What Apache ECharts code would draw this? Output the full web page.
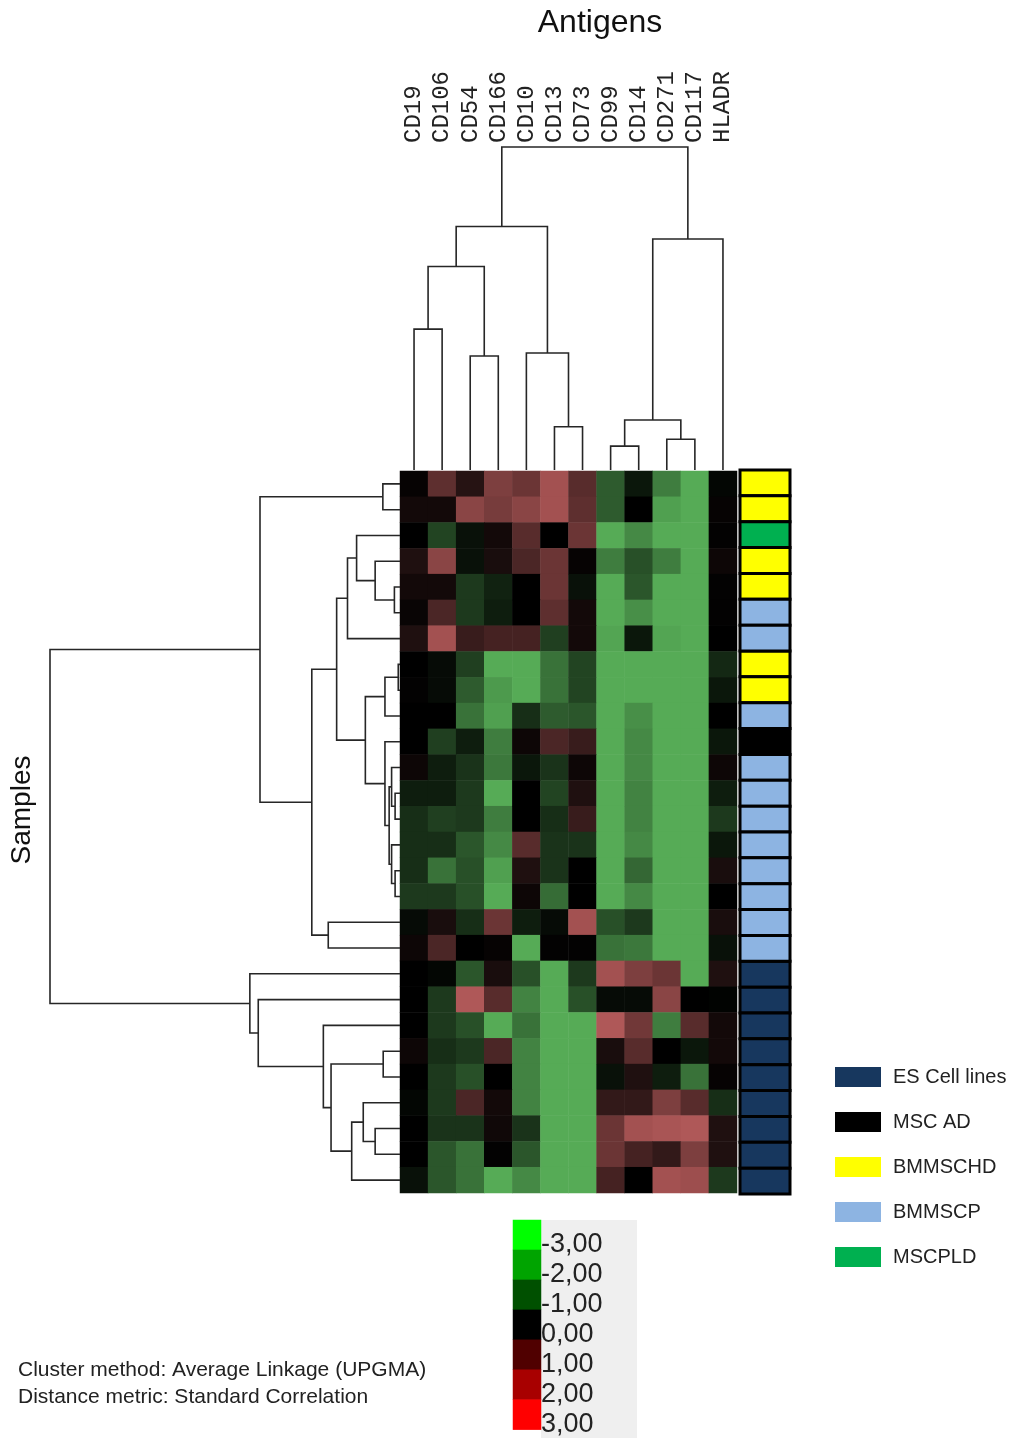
<!DOCTYPE html>
<html>
<head>
<meta charset="utf-8">
<script src="https://cdn.jsdelivr.net/npm/echarts@6/dist/echarts.min.js"></script>
<style>
  html, body { margin: 0; padding: 0; background: #fff; }
  #chart { width: 1015px; height: 1438px; }
</style>
</head>
<body>
<div id="chart"></div>
<script>
// antigens (columns) and expression values per sample (rows)
const antigens = ["CD19", "CD106", "CD54", "CD166", "CD10", "CD13", "CD73", "CD99", "CD14", "CD271", "CD117", "HLADR"];

const expr = [
  [0.1, 1.5, 0.6, 2.0, 1.7, 2.6, 1.4, -1.6, -0.4, -2.2, -3, -0.1],
  [0.3, 0.3, 2.2, 1.9, 2.2, 2.6, 1.5, -1.6, 0.0, -2.8, -3, 0.1],
  [0.0, -1.2, -0.3, 0.3, 1.4, 0.0, 1.7, -3, -2.4, -3, -3, 0.05],
  [0.5, 2.2, -0.3, 0.4, 1.2, 1.7, 0.1, -2.2, -1.4, -2.2, -3, 0.2],
  [0.3, 0.3, -1.0, -0.6, 0.0, 1.7, -0.3, -3, -1.5, -3, -3, 0.05],
  [0.15, 1.2, -1.0, -0.5, 0.0, 1.5, 0.3, -3, -2.5, -3, -3, 0.05],
  [0.5, 2.6, 0.9, 1.1, 1.1, -1.1, 0.3, -2.9, -0.4, -2.9, -3, 0.0],
  [0.0, -0.2, -1.1, -3, -3, -2.0, -1.2, -3, -3, -3, -3, -0.7],
  [0.05, -0.2, -1.6, -2.7, -3, -2.0, -1.2, -3, -3, -3, -3, -0.4],
  [0.0, 0.0, -2.0, -2.8, -0.8, -1.6, -1.5, -3, -2.5, -3, -3, 0.0],
  [0.0, -1.1, -0.5, -2.2, 0.2, 1.2, 0.9, -3, -2.4, -3, -3, -0.4],
  [0.2, -0.5, -0.9, -2.1, -0.4, -0.9, 0.2, -3, -2.4, -3, -3, 0.2],
  [-0.5, -0.5, -1.0, -3, 0.0, -1.2, 0.5, -3, -2.3, -3, -3, -0.5],
  [-0.8, -1.1, -1.0, -2.2, 0.0, -0.8, 0.9, -3, -2.3, -3, -3, -1.0],
  [-0.8, -0.8, -1.5, -2.4, 1.4, -0.9, -0.9, -3, -2.4, -3, -3, -0.4],
  [-0.8, -2.0, -1.4, -2.8, 0.5, -0.9, 0.0, -3, -1.8, -3, -3, 0.4],
  [-1.0, -1.0, -1.4, -3, 0.2, -1.9, 0.0, -3, -2.4, -3, -3, 0.0],
  [-0.2, 0.4, -0.8, 1.7, -0.5, -0.2, 2.6, -1.4, -1.0, -3, -3, 0.4],
  [0.2, 1.2, 0.0, 0.1, -3, 0.05, 0.05, -2.0, -2.1, -3, -3, -0.3],
  [0.0, -0.1, -1.5, 0.4, -1.4, -3, -1.0, 2.6, 2.0, 1.7, -3, 0.5],
  [0.0, -1.0, 2.8, 1.4, -2.3, -3, -1.4, -0.2, -0.2, 2.2, 0.0, -0.05],
  [0.0, -1.0, -1.4, -3, -2.0, -3, -3, 2.8, 1.8, -2.2, 1.4, 0.3],
  [0.2, -0.8, -1.0, 1.2, -2.3, -3, -3, 0.4, 1.4, 0.0, -0.4, 0.3],
  [0.0, -1.0, -1.4, 0.0, -2.3, -3, -3, -0.3, 0.5, -0.5, -2.0, 0.1],
  [-0.1, -1.0, 1.2, 0.3, -2.3, -3, -3, 0.8, 0.8, 2.0, 1.4, -0.8],
  [0.0, -0.9, -0.9, 0.25, -0.9, -3, -3, 1.7, 2.6, 2.7, 2.8, 0.5],
  [0.0, -1.5, -2.0, 0.05, -1.5, -3, -3, 1.7, 1.1, 0.8, 2.0, 0.5],
  [-0.3, -1.5, -2.0, -3, -2.4, -3, -3, 1.1, 0.0, 2.6, 2.5, -1.0]
];

// sample group of each row, top to bottom
const sampleGroups = [
  "BMMSCHD", "BMMSCHD", "MSCPLD", "BMMSCHD", "BMMSCHD", "BMMSCP", "BMMSCP", "BMMSCHD", "BMMSCHD", "BMMSCP",
  "MSC AD",
  "BMMSCP", "BMMSCP", "BMMSCP", "BMMSCP", "BMMSCP", "BMMSCP", "BMMSCP", "BMMSCP",
  "ES Cell lines", "ES Cell lines", "ES Cell lines", "ES Cell lines", "ES Cell lines",
  "ES Cell lines", "ES Cell lines", "ES Cell lines", "ES Cell lines"
];
const groupNames = ["ES Cell lines", "MSC AD", "BMMSCHD", "BMMSCP", "MSCPLD"];
const groupColors = { "ES Cell lines": "#17375e", "MSC AD": "#000000", "BMMSCHD": "#ffff00", "BMMSCP": "#8db4e2", "MSCPLD": "#00b050" };

// dendrograms as nested [left, right, distance]; numbers are leaf indexes
const colTree = [
  [[[0, 1, 0.436], [2, 3, 0.353], 0.630], [4, [5, 6, 0.134], 0.362], 0.754],
  [[[7, 8, 0.074], [9, 10, 0.095], 0.155], 11, 0.715],
  1.0
];

const rowUpper = [
  [0, 1, 0.049],
  [
    [
      [[2, [3, [4, 5, 0.016], 0.071], 0.124], 6, 0.150],
      [
        [[7, 8, 0.005], 9, 0.043],
        [10, [[11, [12, 13, 0.014], 0.024], [14, [15, 16, 0.014], 0.024], 0.031], 0.043],
        0.099
      ],
      0.181
    ],
    [17, 18, 0.205],
    0.252
  ],
  0.400
];
const rowLower = [19, [20, [21, [[22, 23, 0.048], [[24, [25, 26, 0.071], 0.105], 27, 0.138], 0.197], 0.219], 0.405], 0.429];
const rowTree = [rowUpper, rowLower, 1.0];

// colour scale
const scaleValues = [-3, -2, -1, 0, 1, 2, 3];
const scaleLabels = ["-3,00", "-2,00", "-1,00", "0,00", "1,00", "2,00", "3,00"];
const scaleColors = ["#00ff00", "#00a400", "#005000", "#000000", "#500000", "#a80000", "#ff0000"];

// flatten a tree into U-shaped links [posA, hA, posB, hB, h]
function walk(node, out) {
  if (typeof node === "number") return [node, 0];
  const a = walk(node[0], out);
  const b = walk(node[1], out);
  out.push([a[0], a[1], b[0], b[1], node[2]]);
  return [(a[0] + b[0]) / 2, node[2]];
}
const colLinks = [];
walk(colTree, colLinks);
const rowLinks = [];
walk(rowTree, rowLinks);

const heatData = [];
expr.forEach(function (row, r) {
  row.forEach(function (v, c) {
    heatData.push([c, r, v]);
  });
});
const rowIds = expr.map(function (_, i) { return String(i + 1); });

const lineStyle = { stroke: "#262626", lineWidth: 1.6, fill: null };

function dendroRender(vertical) {
  return function (params, api) {
    const pt = function (p, h) { return vertical ? api.coord([p, h]) : api.coord([h, p]); };
    return {
      type: "polyline",
      shape: {
        points: [
          pt(api.value(0), api.value(1)),
          pt(api.value(0), api.value(4)),
          pt(api.value(2), api.value(4)),
          pt(api.value(2), api.value(3))
        ]
      },
      style: lineStyle
    };
  };
}

const groupSeries = groupNames.map(function (g) {
  const data = [];
  sampleGroups.forEach(function (s, i) {
    if (s === g) data.push([0, i]);
  });
  return {
    type: "custom",
    name: g,
    xAxisIndex: 4,
    yAxisIndex: 3,
    itemStyle: { color: groupColors[g] },
    data: data,
    renderItem: function (params, api) {
      const c = api.coord([0, api.value(1)]);
      const s = api.size([1, 1]);
      return {
        type: "rect",
        shape: { x: c[0] - s[0] / 2, y: c[1] - s[1] / 2, width: s[0], height: s[1] },
        style: { fill: api.visual("color"), stroke: "#000", lineWidth: 3 }
      };
    }
  };
});

const chart = echarts.init(document.getElementById("chart"));
const font = "Liberation Sans, Arial, sans-serif";

chart.setOption({
  backgroundColor: "#fff",
  animation: false,
  grid: [
    { left: 400, top: 471, width: 337, height: 722 },
    { left: 400, top: 147, width: 337, height: 323 },
    { left: 50, top: 471, width: 350, height: 722 },
    { left: 740, top: 470, width: 50, height: 724 },
    { left: 513, top: 1220, width: 28, height: 212 }
  ],
  xAxis: [
    { type: "category", gridIndex: 0, data: antigens, show: false },
    { type: "value", gridIndex: 1, min: -0.5, max: 11.5, show: false },
    {
      type: "category", gridIndex: 1, data: antigens, position: "top",
      axisLine: { show: false }, axisTick: { show: false },
      axisLabel: { rotate: -90, margin: 4, interval: 0, fontFamily: "Liberation Mono, monospace", fontSize: 24, color: "#222" }
    },
    { type: "value", gridIndex: 2, min: 0, max: 1, inverse: true, show: false },
    { type: "category", gridIndex: 3, data: ["group"], show: false },
    { type: "category", gridIndex: 4, data: ["scale"], show: false }
  ],
  yAxis: [
    { type: "category", gridIndex: 0, data: rowIds, inverse: true, show: false },
    { type: "value", gridIndex: 1, min: 0, max: 1, show: false },
    { type: "value", gridIndex: 2, min: -0.5, max: 27.5, inverse: true, show: false },
    { type: "category", gridIndex: 3, data: rowIds, inverse: true, show: false },
    {
      type: "category", gridIndex: 4, data: scaleLabels, inverse: true, position: "right",
      axisLine: { show: false }, axisTick: { show: false },
      axisLabel: {
        margin: 0, interval: 0, fontFamily: "Liberation Sans Narrow, Liberation Sans, Arial", fontSize: 27, color: "#222",
        verticalAlign: "top", lineHeight: 20
      }
    }
  ],
  visualMap: [
    {
      type: "continuous", seriesIndex: 0, min: -3, max: 3, show: false,
      inRange: { color: ["#56ab56", "#000000", "#bc5e5e"] }
    },
    {
      type: "piecewise", seriesIndex: 3, show: false,
      pieces: scaleValues.map(function (v, i) { return { value: v, color: scaleColors[i] }; })
    }
  ],
  legend: {
    data: groupNames,
    orient: "vertical",
    left: 835,
    top: 1067,
    padding: 0,
    icon: "rect",
    itemWidth: 46,
    itemHeight: 20,
    itemGap: 25,
    selectedMode: false,
    textStyle: { fontFamily: font, fontSize: 20, color: "#222", padding: [0, 0, 0, 7] }
  },
  graphic: [
    { type: "rect", left: 541, top: 1220, z: -1, shape: { width: 96, height: 218 }, style: { fill: "#efefef" } },
    { type: "text", x: 600, y: 23, style: { text: "Antigens", font: "32px " + font, fill: "#111", align: "center", verticalAlign: "middle" } },
    { type: "text", x: 22, y: 810, rotation: Math.PI / 2, style: { text: "Samples", font: "28px " + font, fill: "#111", align: "center", verticalAlign: "middle" } },
    { type: "text", x: 18, y: 1370, style: { text: "Cluster method: Average Linkage (UPGMA)", font: "21px " + font, fill: "#222", verticalAlign: "middle" } },
    { type: "text", x: 18, y: 1397, style: { text: "Distance metric: Standard Correlation", font: "21px " + font, fill: "#222", verticalAlign: "middle" } }
  ],
  series: [
    {
      type: "heatmap", xAxisIndex: 0, yAxisIndex: 0, data: heatData,
      itemStyle: { borderWidth: 0 }, emphasis: { disabled: true }
    },
    { type: "custom", xAxisIndex: 1, yAxisIndex: 1, data: colLinks, renderItem: dendroRender(true) },
    { type: "custom", xAxisIndex: 3, yAxisIndex: 2, data: rowLinks, renderItem: dendroRender(false) },
    {
      type: "heatmap", xAxisIndex: 5, yAxisIndex: 4,
      data: scaleValues.map(function (v, i) { return [0, i, v]; }),
      emphasis: { disabled: true }
    }
  ].concat(groupSeries)
});
</script>
</body>
</html>
